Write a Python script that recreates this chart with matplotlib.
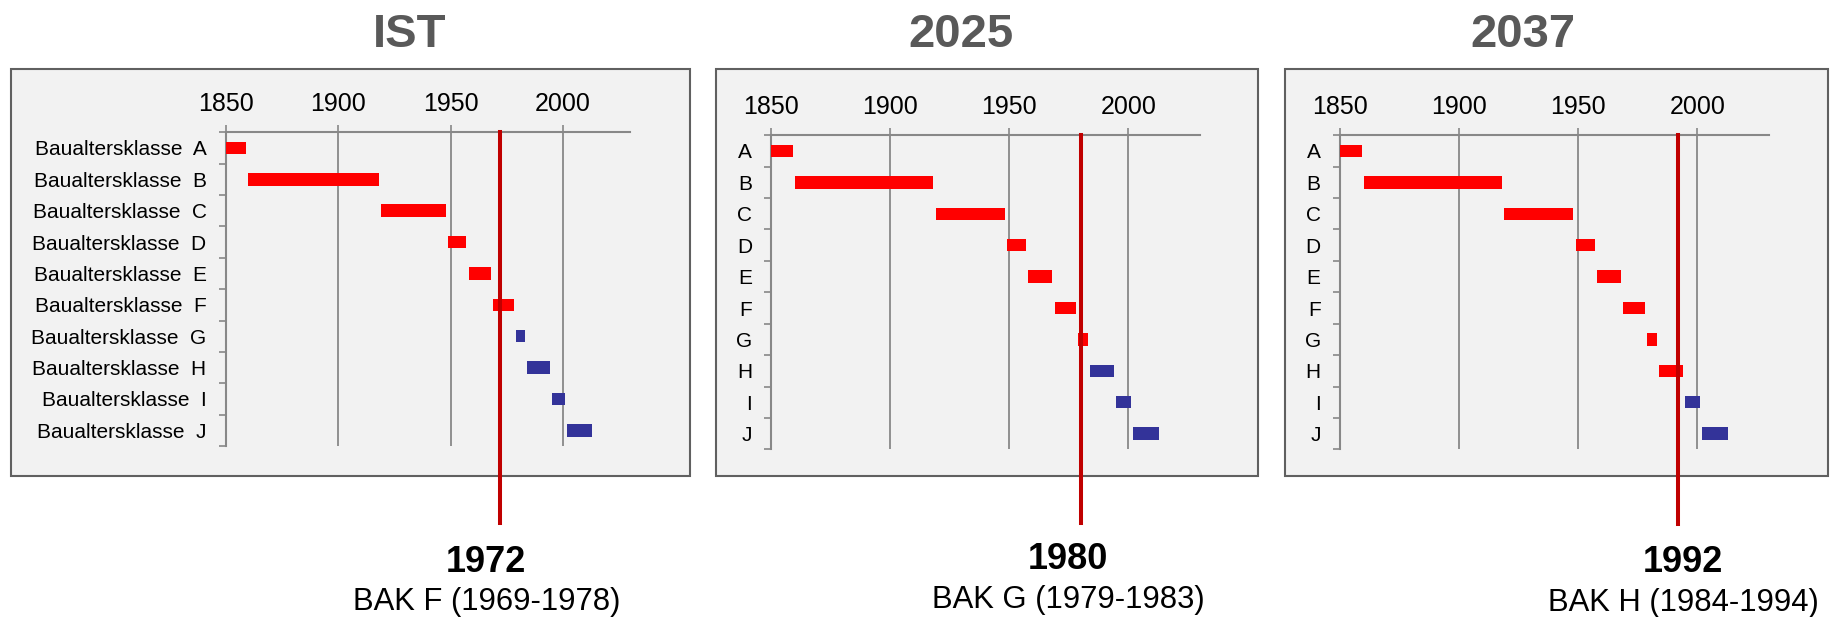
import matplotlib
matplotlib.use("Agg")
import matplotlib.pyplot as plt
import numpy as np
from matplotlib.patches import Rectangle

plt.rcParams['font.family'] = ['Liberation Sans', 'DejaVu Sans']

# building age classes (Baualtersklassen) and their year spans
classes = ['A', 'B', 'C', 'D', 'E', 'F', 'G', 'H', 'I', 'J']
start_years = [1850, 1860, 1919, 1949, 1958, 1969, 1979, 1984, 1995, 2002]
end_years = [1859, 1918, 1948, 1957, 1968, 1978, 1983, 1994, 2001, 2013]

# scenarios: title, reference year, class of the reference year
scenarios = ['IST', '2025', '2037']
ref_years = [1972, 1980, 1992]
ref_classes = ['F', 'G', 'H']

year_ticks = [1850, 1900, 1950, 2000]

W, H = 1834, 617
RED = '#FF0000'
BLUE = '#333399'
LINE_RED = '#C00000'
GRAY = '#888888'


def fx(x):
    return x / W


def fy(y):
    return 1 - y / H


# pixel layout per panel
boxes = [(10.7, 690.0), (716.0, 1258.0), (1285.0, 1827.6)]
box_top, box_bottom = 69.0, 476.0
axes_px = [(226.0, 630.4, 132.3, 446.0),
           (771.4, 1199.8, 135.3, 449.3),
           (1340.1, 1768.7, 135.3, 449.3)]
title_pos = [(409.5, 47.3), (961.5, 47.3), (1523.0, 47.3)]
year_pos = [(486.3, 571.7), (1068.3, 569.0), (1683.3, 571.7)]
bak_pos = [(486.3, 610.0), (1068.3, 608.3), (1683.5, 611.0)]
line_end_px = [522.7, 522.7, 524.0]

fig = plt.figure(figsize=(W / 100, H / 100), dpi=100)

for i, name in enumerate(scenarios):
    bx0, bx1 = boxes[i]
    fig.patches.append(Rectangle((fx(bx0), fy(box_bottom)), fx(bx1 - bx0),
                                 (box_bottom - box_top) / H,
                                 transform=fig.transFigure, facecolor='#F2F2F2',
                                 edgecolor='#606060', lw=1.5, zorder=-1))

    x0, x1, yt, yb = axes_px[i]
    ax = fig.add_axes([fx(x0), fy(yb), fx(x1 - x0), (yb - yt) / H])
    ax.patch.set_visible(False)

    ref_idx = classes.index(ref_classes[i])
    colors = [RED if k <= ref_idx else BLUE for k in range(len(classes))]
    widths = [e - s for s, e in zip(start_years, end_years)]
    ax.barh(np.arange(len(classes)) + 0.5, widths, left=start_years,
            height=0.4, color=colors, zorder=3)

    ax.set_xlim(1850, 2030)
    ax.set_ylim(len(classes), 0)
    ax.xaxis.tick_top()
    ax.set_xticks(year_ticks)
    ax.tick_params(axis='x', direction='out', length=5, width=1.2,
                   color=GRAY, labelsize=18, pad=7)
    ax.grid(axis='x', color=GRAY, lw=1.3, zorder=1)
    ax.set_axisbelow(True)

    ax.set_yticks(np.arange(len(classes) + 1))
    ax.set_yticklabels([])
    ax.set_yticks(np.arange(len(classes)) + 0.5, minor=True)
    if i == 0:
        labels = ['Baualtersklasse  ' + c for c in classes]
    else:
        labels = classes
    ax.set_yticklabels(labels, minor=True)
    ax.tick_params(axis='y', which='major', direction='out', length=5,
                   width=1.2, color=GRAY)
    ax.tick_params(axis='y', which='minor', length=0, pad=14, labelsize=15)

    for side in ['right', 'bottom']:
        ax.spines[side].set_visible(False)
    for side in ['top', 'left']:
        ax.spines[side].set_color(GRAY)
        ax.spines[side].set_linewidth(1.5)

    # reference year line, running out below the box
    end_frac = (yb - line_end_px[i]) / (yb - yt)
    ax.plot([ref_years[i], ref_years[i]], [1, end_frac],
            transform=ax.get_xaxis_transform(), color=LINE_RED, lw=2.9,
            clip_on=False, zorder=5)

    tx, ty = title_pos[i]
    fig.text(fx(tx), fy(ty), name, ha='center', va='baseline',
             fontsize=34, fontweight='bold', color='#595959')

    px_, py_ = year_pos[i]
    fig.text(fx(px_), fy(py_), str(ref_years[i]), ha='center', va='baseline',
             fontsize=26, fontweight='bold', color='black')

    c = ref_classes[i]
    bak_label = f'BAK {c} ({start_years[ref_idx]}-{end_years[ref_idx]})'
    qx, qy = bak_pos[i]
    fig.text(fx(qx), fy(qy), bak_label, ha='center', va='baseline',
             fontsize=22.3, color='black')

fig.savefig('out.png', dpi=100)
